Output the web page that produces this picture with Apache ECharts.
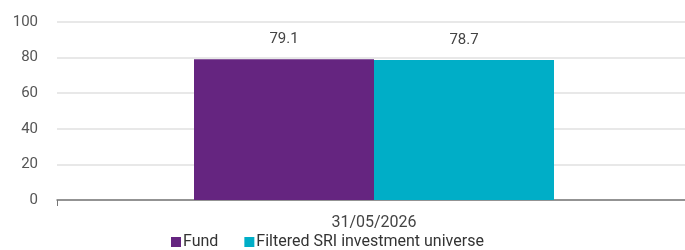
<!DOCTYPE html>
<html>
<head>
<meta charset="utf-8">
<script src="https://cdn.jsdelivr.net/npm/echarts@6/dist/echarts.min.js"></script>
<style>
  html, body { margin: 0; padding: 0; background: #fff; }
  #chart { width: 685px; height: 250px; }
</style>
</head>
<body>
<div id="chart"></div>
<script>
const categories = ["31/05/2026"];
const fundValues = [79.1];
const universeValues = [78.7];
const seriesNames = ["Fund", "Filtered SRI investment universe"];

const chart = echarts.init(document.getElementById("chart"));
const labelStyle = {
  show: true,
  position: "top",
  distance: 12,
  fontFamily: "Roboto",
  fontSize: 15,
  color: "#444",
  formatter: (p) => p.value.toFixed(1),
};

chart.setOption({
  animation: false,
  textStyle: { fontFamily: "Roboto" },
  grid: { left: 57, top: 22, right: -6, height: 178, outerBoundsMode: "none" },
  legend: {
    bottom: -5,
    left: 166,
    itemWidth: 10,
    itemHeight: 10,
    itemGap: 26,
    icon: "rect",
    textStyle: { fontSize: 16, color: "#333", padding: [0, 0, 0, -3] },
    data: seriesNames,
  },
  xAxis: {
    type: "category",
    data: categories,
    axisLine: { lineStyle: { color: "#777", width: 1.5 } },
    axisTick: { show: true, length: 6, lineStyle: { color: "#777" } },
    axisLabel: { fontSize: 16, color: "#444", margin: 15 },
  },
  yAxis: {
    type: "value",
    min: 0,
    max: 100,
    interval: 20,
    axisLine: { show: false },
    axisTick: { show: false },
    axisLabel: { fontSize: 15, color: "#555", margin: 19 },
    splitLine: { lineStyle: { color: "#e0e0e0", width: 1.5 } },
  },
  series: [
    {
      name: seriesNames[0],
      type: "bar",
      data: fundValues,
      barWidth: 180,
      barGap: "0%",
      itemStyle: { color: "#652580" },
      label: labelStyle,
    },
    {
      name: seriesNames[1],
      type: "bar",
      data: universeValues,
      barWidth: 180,
      barGap: "0%",
      itemStyle: { color: "#00aec7" },
      label: labelStyle,
    },
  ],
});
</script>
</body>
</html>
